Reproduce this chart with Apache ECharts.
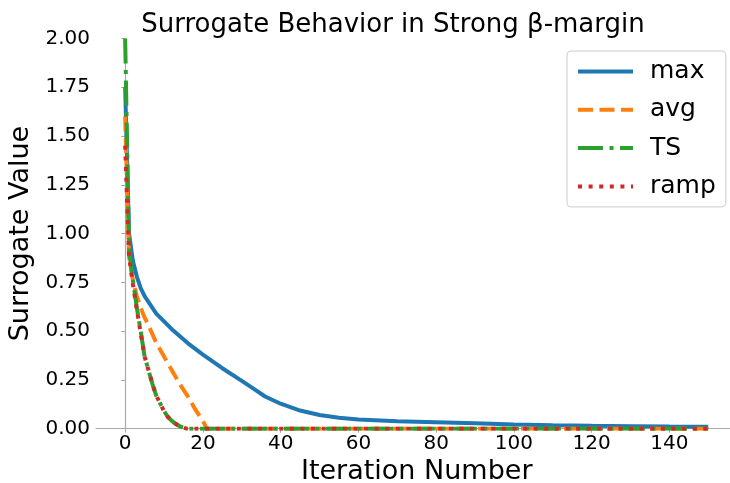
<!DOCTYPE html>
<html>
<head>
<meta charset="utf-8">
<script src="https://cdn.jsdelivr.net/npm/echarts@6/dist/echarts.min.js"></script>
<style>html,body{margin:0;padding:0;background:#fff;}#c{width:730px;height:483px;}</style>
</head>
<body>
<div id="c"></div>
<script>
// ---- data ----
const seriesNames = ['max', 'avg', 'TS', 'ramp'];
const xTickValues = [0, 20, 40, 60, 80, 100, 120, 140];
const yTickValues = [0, 0.25, 0.5, 0.75, 1.0, 1.25, 1.5, 1.75, 2.0];

const maxX = [0, 1, 2, 3, 4, 5, 8, 12, 16, 20, 25, 30, 33, 36, 40, 45, 50, 55, 60, 70, 80, 90, 100, 110, 120, 130, 140, 150];
const maxY = [1.75, 1.0, 0.86, 0.78, 0.72, 0.68, 0.59, 0.51, 0.44, 0.38, 0.31, 0.245, 0.205, 0.165, 0.128, 0.093, 0.07, 0.056, 0.047, 0.038, 0.033, 0.028, 0.022, 0.018, 0.015, 0.013, 0.011, 0.01];

const avgX = [0, 1, 2, 3, 4, 5, 6, 8, 10, 12, 14, 16, 18, 20, 21, 30, 60, 90, 120, 150];
const avgY = [1.6, 0.88, 0.76, 0.68, 0.62, 0.57, 0.53, 0.44, 0.37, 0.3, 0.23, 0.17, 0.1, 0.04, 0.0, 0.0, 0.0, 0.0, 0.0, 0.0];

const tsX = [0, 1, 2, 3, 4, 5, 6, 7, 8, 9, 10, 11, 12, 13, 14, 15, 16, 30, 60, 90, 120, 150];
const tsY = [2.0, 0.92, 0.76, 0.62, 0.5, 0.37, 0.3, 0.23, 0.17, 0.13, 0.09, 0.06, 0.04, 0.025, 0.013, 0.005, 0.0, 0.0, 0.0, 0.0, 0.0, 0.0];

const rampX = [0, 1, 2, 3, 4, 5, 6, 7, 8, 9, 10, 11, 12, 13, 14, 15, 16, 30, 60, 90, 120, 150];
const rampY = [1.45, 0.88, 0.74, 0.61, 0.49, 0.37, 0.3, 0.23, 0.17, 0.13, 0.09, 0.06, 0.04, 0.025, 0.013, 0.005, 0.0, 0.0, 0.0, 0.0, 0.0, 0.0];

const colors = ['#1f77b4', '#ff7f0e', '#2ca02c', '#d62728'];
const dashes = ['solid', [15, 6.5], [25, 6.5, 4, 6.5], [4, 6.6]];

function pairs(xs, ys) { return xs.map((x, i) => [x, ys[i]]); }
const allData = [pairs(maxX, maxY), pairs(avgX, avgY), pairs(tsX, tsY), pairs(rampX, rampY)];

const chart = echarts.init(document.getElementById('c'), null, {renderer: 'canvas'});
const font = 'DejaVu Sans';
chart.setOption({
  animation: false,
  title: {
    text: 'Surrogate Behavior in Strong β-margin',
    left: 388, top: 7, textAlign: 'center',
    textStyle: {fontFamily: font, fontSize: 26, fontWeight: 'normal', color: '#000'}
  },
  legend: {
    orient: 'vertical',
    left: 567, top: 51,
    padding: [8, 10, 8, 9],
    itemWidth: 55, itemHeight: 20, itemGap: 13.3,
    backgroundColor: 'rgba(255,255,255,0.8)',
    borderColor: '#cccccc', borderWidth: 1, borderRadius: 4,
    textStyle: {fontFamily: font, fontSize: 25, color: '#000', padding: [0, 0, 0, 12]},
    data: seriesNames.map((n, i) => ({
      name: n,
      itemStyle: {opacity: 0},
      lineStyle: {color: colors[i], width: 4, type: dashes[i], cap: 'butt'}
    }))
  },
  grid: {left: 96, top: 38.5, width: 641.4, height: 390.2, containLabel: false, outerBoundsMode: 'none'},
  xAxis: {
    type: 'value', min: -7.5, max: 157.5,
    name: 'Iteration Number', nameLocation: 'middle', nameGap: 25,
    nameTextStyle: {fontFamily: font, fontSize: 27, color: '#000'},
    axisLine: {lineStyle: {color: '#aaaaaa', width: 1.2}},
    axisTick: {show: true, length: 4, customValues: xTickValues, lineStyle: {color: '#aaaaaa'}},
    axisLabel: {customValues: xTickValues, margin: 5, fontFamily: font, fontSize: 20, color: '#000'},
    splitLine: {show: false}
  },
  yAxis: {
    type: 'value', min: 0, max: 2, interval: 0.25,
    name: 'Surrogate Value', nameLocation: 'middle', nameGap: 60,
    nameTextStyle: {fontFamily: font, fontSize: 27, color: '#000'},
    axisLine: {show: true, lineStyle: {color: '#aaaaaa', width: 1.2}},
    axisTick: {show: true, length: 4, lineStyle: {color: '#aaaaaa'}},
    axisLabel: {margin: 6, fontFamily: font, fontSize: 20, color: '#000',
      formatter: v => v.toFixed(2)},
    splitLine: {show: false}
  },
  series: seriesNames.map((n, i) => ({
    name: n, type: 'line', data: allData[i],
    symbol: 'none', showSymbol: false, clip: true,
    lineStyle: {color: colors[i], width: 4, type: dashes[i], cap: 'butt'},
    itemStyle: {color: colors[i]},
    z: 2 + i
  }))
});
</script>
</body>
</html>
